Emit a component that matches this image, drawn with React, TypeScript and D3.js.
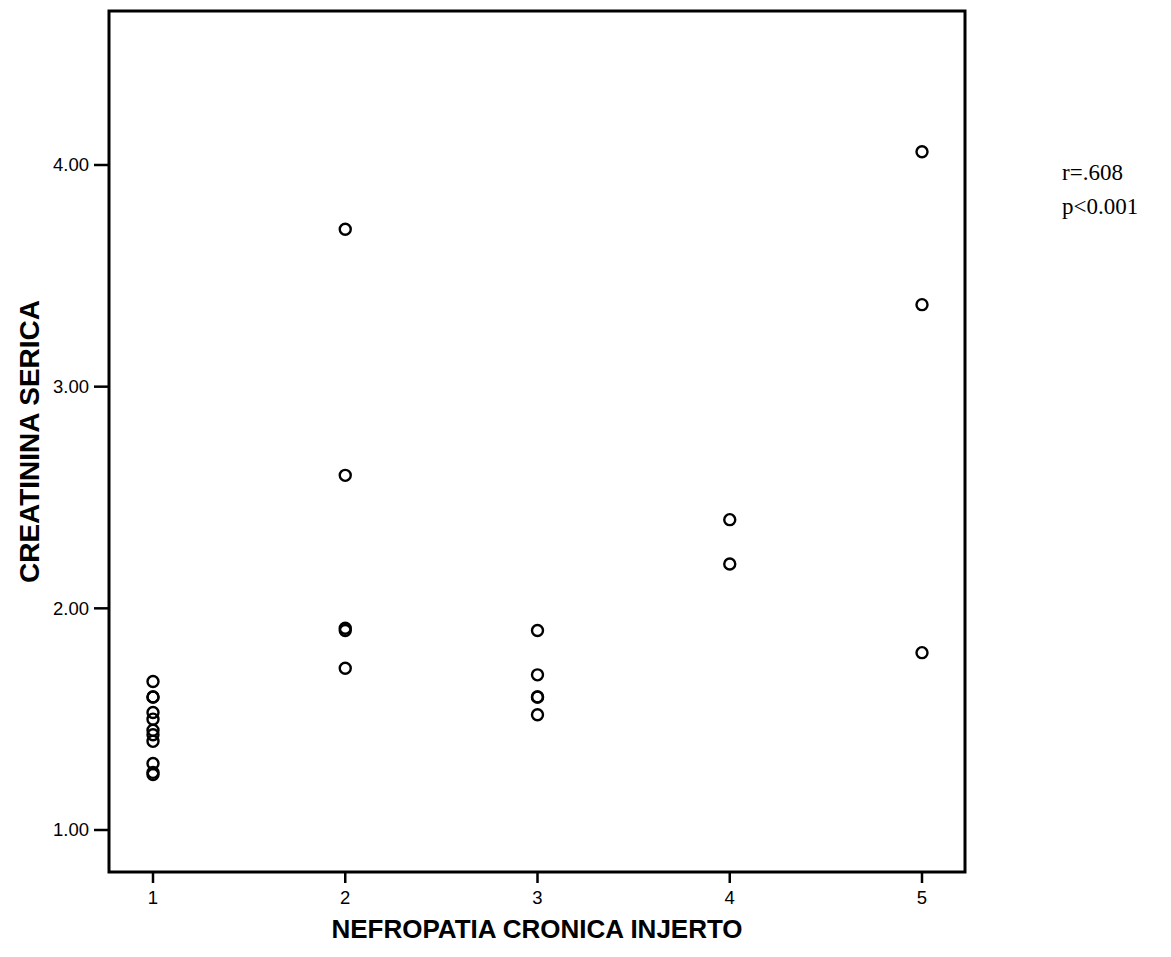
import React from "react";
import * as d3 from "d3";

const groupX: number[] = [1, 1, 1, 1, 1, 1, 1, 1, 1, 1, 1, 2, 2, 2, 2, 2, 3, 3, 3, 3, 3, 4, 4, 5, 5, 5];
const creatinina: number[] = [1.67, 1.60, 1.60, 1.53, 1.50, 1.45, 1.43, 1.40, 1.30, 1.26, 1.25, 3.71, 2.60, 1.91, 1.90, 1.73, 1.90, 1.70, 1.60, 1.60, 1.52, 2.40, 2.20, 4.06, 3.37, 1.80];
const xTicks: number[] = [1, 2, 3, 4, 5];
const yTicks: number[] = [1, 2, 3, 4];
const xTitle = "NEFROPATIA CRONICA INJERTO";
const yTitle = "CREATININA SERICA";
const annotation: string[] = ["r=.608", "p<0.001"];

const W = 1171;
const H = 957;
const left = 109;
const right = 965;
const top = 11;
const bottom = 872;

export default function App() {
  const x = d3.scaleLinear().domain([1, 5]).range([153, 922]);
  const y = d3.scaleLinear().domain([1, 4]).range([830, 165]);
  const font = "'Liberation Sans', Arial, sans-serif";
  return (
    <svg width={W} height={H} style={{ position: "absolute", left: 0, top: 0, background: "#fff" }}>
      <rect x={0} y={0} width={W} height={H} fill="#fff" />
      <rect x={left} y={top} width={right - left} height={bottom - top} fill="none" stroke="#000" strokeWidth={3} />
      {yTicks.map((t) => (
        <g key={"y" + t}>
          <line x1={left - 15} x2={left} y1={y(t)} y2={y(t)} stroke="#000" strokeWidth={2.5} />
          <text x={left - 20} y={y(t)} dy="0.35em" textAnchor="end" fontFamily={font} fontSize={18.5}>
            {d3.format(".2f")(t)}
          </text>
        </g>
      ))}
      {xTicks.map((t) => (
        <g key={"x" + t}>
          <line x1={x(t)} x2={x(t)} y1={bottom} y2={bottom + 11} stroke="#000" strokeWidth={2.5} />
          <text x={x(t)} y={bottom + 32} textAnchor="middle" fontFamily={font} fontSize={18.5}>
            {t}
          </text>
        </g>
      ))}
      {groupX.map((g, i) => (
        <circle key={i} cx={x(g)} cy={y(creatinina[i])} r={5.5} fill="none" stroke="#000" strokeWidth={2.4} />
      ))}
      <text x={(left + right) / 2} y={bottom + 66} textAnchor="middle" fontFamily={font} fontWeight="bold" fontSize={26}>
        {xTitle}
      </text>
      <text
        transform={`translate(39, ${(top + bottom) / 2}) rotate(-90)`}
        textAnchor="middle"
        fontFamily={font}
        fontWeight="bold"
        fontSize={28}
      >
        {yTitle}
      </text>
      {annotation.map((s, i) => (
        <text key={s} x={1062} y={180 + i * 34} fontFamily="'Liberation Serif', 'Times New Roman', serif" fontSize={23}>
          {s}
        </text>
      ))}
    </svg>
  );
}
